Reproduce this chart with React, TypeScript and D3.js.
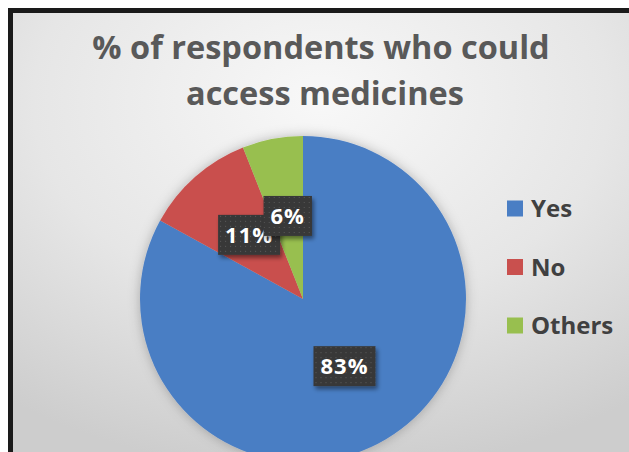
import React, { useEffect, useRef } from "react";
import * as d3 from "d3";

const categories = ["Yes", "No", "Others"];
const values = [83, 11, 6];
const labels = ["83%", "11%", "6%"];
const colors = ["#4a7ec4", "#c9504e", "#98bf4f"];
const titleLines = ["% of respondents who could", "access medicines"];

const W = 629;
const H = 452;

export default function App() {
  const ref = useRef<SVGSVGElement | null>(null);

  useEffect(() => {
    const svg = d3.select(ref.current);
    svg.selectAll("*").remove();

    const defs = svg.append("defs");
    const bg = defs
      .append("radialGradient")
      .attr("id", "bg")
      .attr("cx", "0.5")
      .attr("cy", "0.2")
      .attr("r", "0.85");
    bg.append("stop").attr("offset", "0").attr("stop-color", "#f8f8f8");
    bg.append("stop").attr("offset", "0.55").attr("stop-color", "#e6e6e6");
    bg.append("stop").attr("offset", "1").attr("stop-color", "#cdcdcd");

    const sh = defs.append("filter").attr("id", "pieShadow").attr("x", "-20%").attr("y", "-20%").attr("width", "140%").attr("height", "140%");
    sh.append("feDropShadow").attr("dx", 0).attr("dy", 0).attr("stdDeviation", 6).attr("flood-color", "#000").attr("flood-opacity", 0.25);

    const bs = defs.append("filter").attr("id", "boxShadow").attr("x", "-30%").attr("y", "-30%").attr("width", "160%").attr("height", "160%");
    bs.append("feDropShadow").attr("dx", 2).attr("dy", 3).attr("stdDeviation", 2).attr("flood-color", "#000").attr("flood-opacity", 0.45);

    const pat = defs.append("pattern").attr("id", "dots").attr("width", 5).attr("height", 5).attr("patternUnits", "userSpaceOnUse");
    pat.append("rect").attr("width", 5).attr("height", 5).attr("fill", "#383838");
    pat.append("rect").attr("x", 1).attr("y", 1).attr("width", 1).attr("height", 1).attr("fill", "#5a5a5a");

    // page & frame
    svg.append("rect").attr("width", W).attr("height", H).attr("fill", "#ffffff");
    svg.append("rect").attr("x", 8).attr("y", 8).attr("width", W - 8).attr("height", H - 8).attr("fill", "#1a1a1a");
    svg.append("rect").attr("x", 13).attr("y", 13).attr("width", W - 13).attr("height", H - 13).attr("fill", "url(#bg)");

    // title
    const title = svg
      .append("text")
      .attr("text-anchor", "middle")
      .attr("font-family", "'Open Sans', sans-serif")
      .attr("font-weight", 700)
      .attr("font-size", 32.5)
      .attr("fill", "#595959");
    titleLines.forEach((t, i) => {
      title
        .append("tspan")
        .attr("x", i === 0 ? 321 : 325)
        .attr("y", 59 + i * 46)
        .text(t);
    });

    // pie
    const cx = 303;
    const cy = 299;
    const R = 163;
    const pie = d3.pie<number>().sort(null).value((d) => d);
    const arcs = pie(values);
    const arc = d3.arc<d3.PieArcDatum<number>>().innerRadius(0).outerRadius(R);
    const labelArc = d3.arc<d3.PieArcDatum<number>>().innerRadius(R * 0.5).outerRadius(R * 0.5);

    const g = svg.append("g").attr("transform", `translate(${cx},${cy})`);
    const pg = g.append("g").attr("filter", "url(#pieShadow)");
    pg.selectAll("path")
      .data(arcs)
      .enter()
      .append("path")
      .attr("d", arc)
      .attr("fill", (_d, i) => colors[i]);

    arcs.forEach((a, i) => {
      const [lx, ly] = labelArc.centroid(a);
      const lg = g.append("g").attr("transform", `translate(${lx},${ly - 3})`);
      const rect = lg.append("rect").attr("fill", "url(#dots)").attr("filter", "url(#boxShadow)");
      const txt = lg
        .append("text")
        .attr("text-anchor", "middle")
        .attr("dy", "0.36em")
        .attr("font-family", "'Open Sans', sans-serif")
        .attr("font-weight", 700)
        .attr("font-size", 22)
        .attr("letter-spacing", 1)
        .attr("fill", "#ffffff")
        .text(labels[i]);
      const bb = (txt.node() as SVGTextElement).getBBox();
      const bw = bb.width + 14;
      const bh = 40;
      rect.attr("x", -bw / 2).attr("y", -bh / 2).attr("width", bw).attr("height", bh);
    });

    // legend
    const lgd = svg.append("g");
    categories.forEach((c, i) => {
      const y = 208.5 + i * 58.5;
      lgd.append("rect").attr("x", 507).attr("y", y - 8).attr("width", 16).attr("height", 16).attr("fill", colors[i]);
      lgd
        .append("text")
        .attr("x", 531)
        .attr("y", y)
        .attr("dy", "0.36em")
        .attr("font-family", "'Open Sans', sans-serif")
        .attr("font-weight", 700)
        .attr("font-size", 24)
        .attr("fill", "#404040")
        .text(c);
    });
  }, []);

  return (
    <svg
      ref={ref}
      width={W}
      height={H}
      style={{ position: "absolute", left: 0, top: 0, display: "block" }}
    />
  );
}
